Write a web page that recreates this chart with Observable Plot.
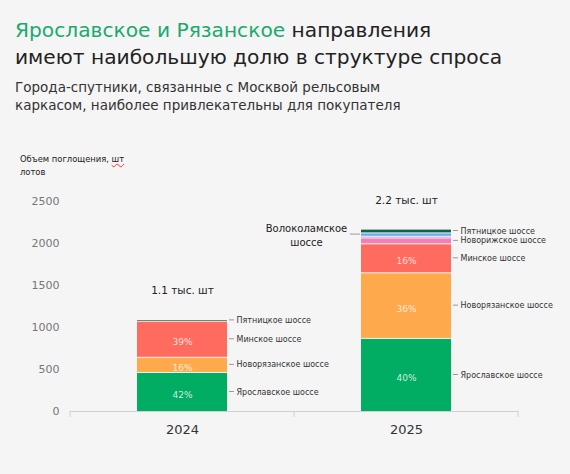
<!DOCTYPE html>
<html><head><meta charset="utf-8">
<script src="https://cdn.jsdelivr.net/npm/d3@7"></script>
<script src="https://cdn.jsdelivr.net/npm/@observablehq/plot@0.6"></script>
<style>
body{margin:0;background:#f5f5f5;width:570px;height:474px;position:relative;overflow:hidden;font-family:"DejaVu Sans",sans-serif;}
#title{position:absolute;left:15px;top:17px;font-size:20.2px;line-height:27px;color:#222;white-space:nowrap;}
#title .hl{color:#1aaa6e;}
#sub{position:absolute;left:15px;top:79px;font-size:13.5px;line-height:17.5px;color:#333;white-space:nowrap;}
#ylab{position:absolute;left:20px;top:153px;font-size:8.4px;line-height:13px;color:#222;white-space:nowrap;}
#ylab .sp{text-decoration:underline wavy #e33;text-decoration-thickness:1px;}
#chart{position:absolute;left:0;top:170px;}
</style></head>
<body>
<div id="title"><span class="hl">Ярославское и Рязанское</span> направления<br>имеют наибольшую долю в структуре спроса</div>
<div id="sub">Города-спутники, связанные с Москвой рельсовым<br>каркасом, наиболее привлекательны для покупателя</div>
<div id="ylab">Объем поглощения, <span class="sp">шт</span><br>лотов</div>
<div id="chart"></div>
<script>
const years = ["2024", "2025"];
const series = ["Ярославское шоссе", "Новорязанское шоссе", "Минское шоссе", "Новорижское шоссе", "Прочие", "Волоколамское шоссе", "Пятницкое шоссе"];
const values2024 = [465, 180, 430, 0, 0, 0, 20];
const values2025 = [870, 781, 345, 70, 20, 40, 45];
const colors = ["#00ad63", "#ffa94d", "#ff6b5e", "#f27fb5", "#b48ad8", "#6aa8ef", "#0a6443"];
const yTicks = [0, 500, 1000, 1500, 2000, 2500];
const pctSeries = ["Ярославское шоссе", "Новорязанское шоссе", "Минское шоссе"];
const rightLabels2024 = ["Ярославское шоссе", "Новорязанское шоссе", "Минское шоссе", "Пятницкое шоссе"];
const rightLabels2025 = ["Ярославское шоссе", "Новорязанское шоссе", "Минское шоссе", "Новорижское шоссе", "Пятницкое шоссе"];
const leftLabels2025 = ["Волоколамское шоссе"];

const valuesByYear = {"2024": values2024, "2025": values2025};
const rightByYear = {"2024": rightLabels2024, "2025": rightLabels2025};
const leftByYear = {"2024": [], "2025": leftLabels2025};

const totals = years.map(year => ({year, total: d3.sum(valuesByYear[year])}));
const rows = years.flatMap(year => {
  const vals = valuesByYear[year];
  const total = d3.sum(vals);
  let acc = 0;
  return series.map((s, i) => {
    const r = {year, series: s, value: vals[i], y1: acc, y2: acc + vals[i], mid: acc + vals[i] / 2, total};
    acc += vals[i];
    return r;
  }).filter(r => r.value > 0);
});
const rightRows = rows.filter(r => rightByYear[r.year].includes(r.series));
const leftRows = rows.filter(r => leftByYear[r.year].includes(r.series));

const chart = Plot.plot({
  width: 570,
  height: 280,
  marginTop: 31,
  marginBottom: 39,
  marginLeft: 70,
  marginRight: 52,
  style: {fontFamily: "DejaVu Sans", background: "transparent", overflow: "visible"},
  x: {domain: years, paddingInner: 0.6, paddingOuter: 0.3},
  y: {domain: [0, 2500]},
  color: {domain: series, range: colors},
  marks: [
    Plot.axisY({ticks: yTicks, tickSize: 0, tickPadding: 11, tickFormat: d => String(d), fontSize: 11, color: "#777", label: null}),
    Plot.axisX({tickSize: 0, tickPadding: 13, fontSize: 13, color: "#333", label: null}),
    Plot.ruleY([0], {stroke: "#d0d0d0"}),
    Plot.barY(rows, {x: "year", y1: "y1", y2: "y2", fill: "series", insetTop: 1}),
    Plot.text(rows.filter(r => pctSeries.includes(r.series)), {
      x: "year", y: "mid", text: r => Math.round(r.value / r.total * 100) + "%",
      fill: "white", fillOpacity: 0.8, fontSize: 9, dy: 3
    }),
    Plot.text(rightRows, {x: "year", y: "mid", text: "series", textAnchor: "start", dx: 54, fontSize: 8, fill: "#333"}),
    Plot.text(leftRows, {x: "year", y: "mid", text: r => r.series.replace(" ", "\n"), textAnchor: "middle", dx: -100, fontSize: 10, lineHeight: 1.4, fill: "#222"}),
    Plot.text(totals, {x: "year", y: "total", text: d => (d.total / 1000).toFixed(1) + " тыс. шт", dy: -29, fontSize: 10.5, fill: "#222"})
  ]
});
document.getElementById("chart").appendChild(chart);

// band boundary ticks and leader lines, positioned through Plot's own scales
const sx = chart.scale("x"), sy = chart.scale("y");
const bw = sx.bandwidth;
const svg = d3.select(chart);
const y0 = sy.apply(0);
const bounds = [sx.range[0], (sx.apply(years[0]) + bw + sx.apply(years[1])) / 2, sx.range[1]];
svg.append("g").selectAll("line").data(bounds).join("line")
  .attr("x1", d => d).attr("x2", d => d).attr("y1", y0).attr("y2", y0 + 6)
  .attr("stroke", "#d0d0d0");
const g = svg.append("g").attr("stroke", "#999").attr("stroke-width", 1);
g.selectAll("line.r").data(rightRows).join("line")
  .attr("x1", r => sx.apply(r.year) + bw + 2).attr("x2", r => sx.apply(r.year) + bw + 7)
  .attr("y1", r => sy.apply(r.mid)).attr("y2", r => sy.apply(r.mid));
g.selectAll("line.l").data(leftRows).join("line")
  .attr("x1", r => sx.apply(r.year) - 11).attr("x2", r => sx.apply(r.year) - 1)
  .attr("y1", r => sy.apply(r.mid)).attr("y2", r => sy.apply(r.mid));
</script>
</body></html>
